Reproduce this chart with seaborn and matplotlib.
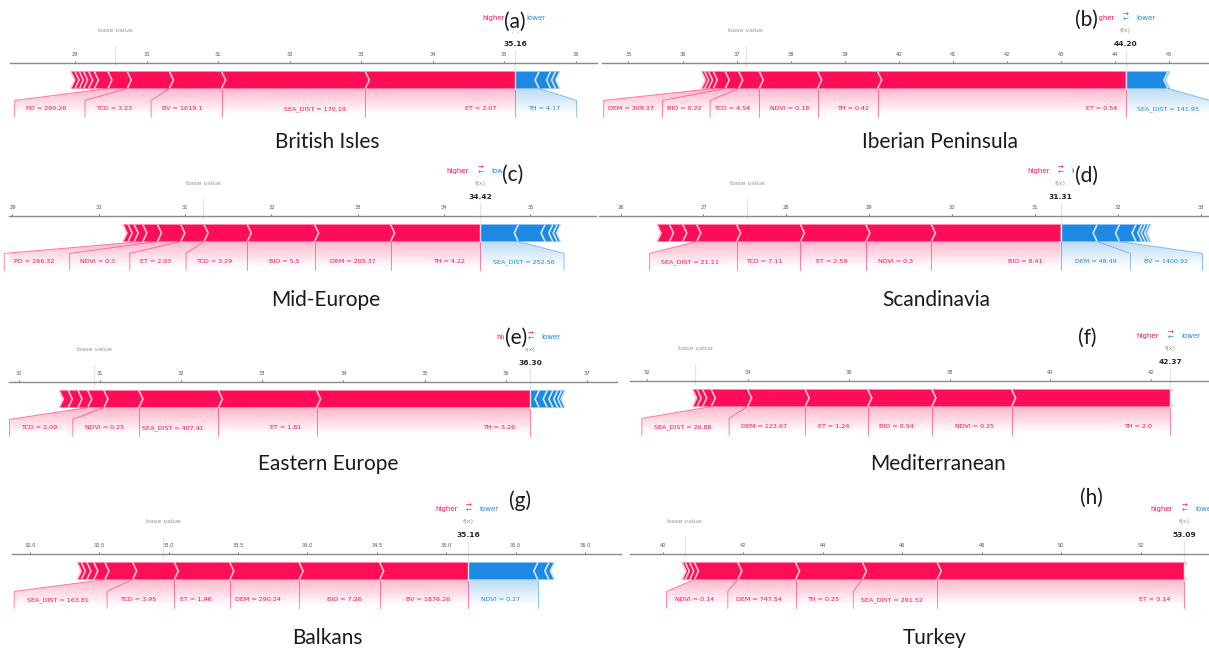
import numpy as np
import matplotlib
matplotlib.use("Agg")
import matplotlib.pyplot as plt
import seaborn as sns
from matplotlib.patches import Polygon, PathPatch
from matplotlib.path import Path
from matplotlib.lines import Line2D
from matplotlib.colors import LinearSegmentedColormap
from matplotlib.ticker import MultipleLocator

# ---------------------------------------------------------------- data
REGIONS = ["British Isles", "Iberian Peninsula", "Mid-Europe", "Scandinavia",
           "Eastern Europe", "Mediterranean", "Balkans", "Turkey"]
LETTERS = ["(a)", "(b)", "(c)", "(d)", "(e)", "(f)", "(g)", "(h)"]
FX = [35.16, 44.20, 34.42, 31.31, 36.30, 42.37, 35.16, 53.09]

# SHAP contributions pushing the prediction higher (largest first) and lower
A_RED = [2.10, 2.01, 0.73, 0.59, 0.27, 0.19, 0.08, 0.07, 0.06, 0.06, 0.06]
A_RED_LABELS = ["ET = 2.07", "SEA_DIST = 170.19", "BV = 1619.1", "TCD = 3.23", "PD = 290.26"]
A_BLUE = [0.33, 0.16, 0.07, 0.06]
A_BLUE_LABELS = ["TH = 4.17"]

B_RED = [4.59, 1.11, 1.08, 0.38, 0.25, 0.22, 0.09, 0.07, 0.06]
B_RED_LABELS = ["ET = 0.54", "TH = 0.42", "NDVI = 0.18", "TCD = 4.54", "BIO = 0.22", "DEM = 309.37"]
B_BLUE = [0.78, 0.04]
B_BLUE_LABELS = ["SEA_DIST = 141.95"]

C_RED = [1.04, 0.88, 0.78, 0.50, 0.27, 0.27, 0.17, 0.10, 0.07, 0.06]
C_RED_LABELS = ["TH = 4.22", "DEM = 205.37", "BIO = 5.5", "TCD = 3.29", "ET = 2.03",
                "NDVI = 0.3", "PD = 266.32"]
C_BLUE = [0.44, 0.31, 0.09, 0.05, 0.04]
C_BLUE_LABELS = ["SEA_DIST = 252.56"]

D_RED = [1.56, 0.79, 0.79, 0.77, 0.48, 0.17, 0.16, 0.15]
D_RED_LABELS = ["BIO = 8.41", "NDVI = 0.3", "ET = 2.59", "TCD = 7.11", "SEA_DIST = 21.11"]
D_BLUE = [0.44, 0.27, 0.20, 0.07, 0.04, 0.04, 0.03]
D_BLUE_LABELS = ["DEM = 48.49", "BV = 1400.92"]

E_RED = [2.63, 1.21, 0.98, 0.43, 0.20, 0.12, 0.12, 0.11]
E_RED_LABELS = ["TH = 3.26", "ET = 1.81", "SEA_DIST = 407.41", "NDVI = 0.25", "TCD = 2.09"]
E_BLUE = [0.11, 0.10, 0.07, 0.06, 0.05, 0.04]
E_BLUE_LABELS = []

F_RED = [3.14, 1.58, 1.27, 1.24, 1.14, 0.72, 0.17, 0.11, 0.09]
F_RED_LABELS = ["TH = 2.0", "NDVI = 0.25", "BIO = 0.54", "ET = 1.24", "DEM = 123.67",
                "SEA_DIST = 20.88"]
F_BLUE = [0.05]
F_BLUE_LABELS = []

G_RED = [0.64, 0.58, 0.50, 0.40, 0.30, 0.20, 0.08, 0.05, 0.04, 0.03]
G_RED_LABELS = ["BV = 1876.26", "BIO = 7.26", "DEM = 290.24", "ET = 1.96", "TCD = 3.95",
                "SEA_DIST = 163.81"]
G_BLUE = [0.50, 0.08, 0.04]
G_BLUE_LABELS = ["NDVI = 0.27"]

H_RED = [6.21, 1.88, 1.68, 1.45, 1.09, 0.12, 0.11, 0.08]
H_RED_LABELS = ["ET = 0.14", "SEA_DIST = 291.52", "TH = 0.25", "DEM = 747.54", "NDVI = 0.14"]
H_BLUE = [0.06]
H_BLUE_LABELS = []

RED_EFFECTS = [A_RED, B_RED, C_RED, D_RED, E_RED, F_RED, G_RED, H_RED]
RED_LABELS = [A_RED_LABELS, B_RED_LABELS, C_RED_LABELS, D_RED_LABELS,
              E_RED_LABELS, F_RED_LABELS, G_RED_LABELS, H_RED_LABELS]
BLUE_EFFECTS = [A_BLUE, B_BLUE, C_BLUE, D_BLUE, E_BLUE, F_BLUE, G_BLUE, H_BLUE]
BLUE_LABELS = [A_BLUE_LABELS, B_BLUE_LABELS, C_BLUE_LABELS, D_BLUE_LABELS,
               E_BLUE_LABELS, F_BLUE_LABELS, G_BLUE_LABELS, H_BLUE_LABELS]

# axis ranges and tick spacing of each panel
XLIMS = [(28.09, 36.30), (34.51, 45.74), (28.96, 35.76), (25.74, 33.10),
         (29.88, 37.37), (31.67, 43.14), (31.87, 36.26), (39.16, 53.71)]
TICK_STEPS = [1, 1, 1, 1, 1, 2, 0.5, 2]

# ---------------------------------------------------------------- layout
W, H = 1209, 654
AXIS_SPAN = [(10, 597), (602, 1209), (9, 596), (599, 1209),
             (9, 617), (630, 1209), (12, 621), (630, 1209)]
AXIS_Y = [63, 63, 216, 216, 382, 381, 554, 554]
TITLE_POS = [(327, 142), (940, 142), (326, 300), (936, 300),
             (328, 464), (938, 464), (327, 638), (935, 638)]
LETTER_POS = [(515, 22), (1086, 20), (513, 175), (1086, 176),
              (516, 338), (1087, 338), (520, 501), (1091, 498)]

# label spacing in pixels: (gap next to previous label, gap before own link line)
RED_GAPS = [(19, 11), (9, 4), (15, 10), (18, 11), (15, 12), (18, 12), (18, 13), (14, 8)]
BLUE_GAPS = [(13, 16), (11, 11), (13, 9), (14, 14), (13, 12), (13, 12), (13, 12), (13, 12)]

RED, RED_LIGHT = "#FF0D57", "#FFC3D5"
BLUE, BLUE_LIGHT = "#1E88E5", "#D1E6FA"

BAR_W = 0.1
YLIM = (-0.2, 0.15)
PX_PER_Y = 170.0
LABEL_Y = -0.127
LINK_BOTTOM = -0.17

LABEL_FS = 4.6
TICK_FS = 3.7
VALUE_FS = 5.4
NAME_FS = 4.6
HL_FS = 5.0
LINK_LW = 0.7
SEP_LW = 1.2

sns.set_theme(style="white")
plt.rcParams["font.family"] = ["DejaVu Sans"]

fig = plt.figure(figsize=(W / 100, H / 100), dpi=100)
renderer = fig.canvas.get_renderer()


def make_axes(span, axis_y):
    h = (YLIM[1] - YLIM[0]) * PX_PER_Y
    left, right = span
    return fig.add_axes([left / W, 1 - (axis_y + h) / H, (right - left) / W, h / H])


def draw_bars(ax, out_value, effects, kind, indent):
    color, light = (RED, RED_LIGHT) if kind == "pos" else (BLUE, BLUE_LIGHT)
    pre = out_value
    rects, seps = [], []
    for i, eff in enumerate(effects):
        if kind == "pos":
            left, right = pre - eff, pre
            pre = left
            ind = abs(indent)
            sep = left
        else:
            left, right = pre, pre + eff
            pre = right
            ind = -abs(indent)
            sep = right
        if i == 0:
            if kind == "pos":
                pts = [[left, 0], [right, 0], [right, BAR_W], [left, BAR_W],
                       [left + ind, BAR_W / 2]]
            else:
                pts = [[right, 0], [left, 0], [left, BAR_W], [right, BAR_W],
                       [right + ind, BAR_W / 2]]
        else:
            pts = [[left, 0], [right, 0], [right + ind * 0.9, BAR_W / 2],
                   [right, BAR_W], [left, BAR_W], [left + ind * 0.9, BAR_W / 2]]
        rects.append(Polygon(pts, closed=True, fill=True, facecolor=color, linewidth=0))
        seps.append(Polygon([[sep, 0], [sep + ind, BAR_W / 2], [sep, BAR_W]],
                            closed=False, fill=False, edgecolor=light, lw=SEP_LW))
    for p in rects:
        ax.add_patch(p)
    for p in seps:
        ax.add_patch(p)


def draw_labels(ax, out_value, effects, texts, kind, ppu, gaps):
    pos = kind == "pos"
    sign = 1 if pos else -1
    color = RED if pos else BLUE
    near = gaps[0] / ppu
    far = gaps[1] / ppu
    start = out_value
    pre = out_value
    box_end = out_value
    if pos:
        ax.add_line(Line2D([out_value, out_value], [0, LINK_BOTTOM], lw=LINK_LW,
                           alpha=0.5, color=color, clip_on=False))
    cum = out_value
    inv = ax.transData.inverted()
    for eff, text in zip(effects, texts):
        val = cum - sign * eff
        cum = val
        t = ax.text(start - sign * near, LABEL_Y, text, fontsize=LABEL_FS, color=color,
                    ha="right" if pos else "left", va="baseline", clip_on=False)
        bb = t.get_window_extent(renderer)
        (x0, _), (x1, _) = inv.transform([[bb.x0, bb.y0], [bb.x1, bb.y1]])
        edge = x0 if pos else x1
        if sign * edge > sign * val:
            ax.add_line(Line2D([val, val], [0, LINK_BOTTOM], lw=LINK_LW, alpha=0.5,
                               color=color, clip_on=False))
            start = val
            box_end = val
        else:
            box_end = edge - sign * far
            ax.add_line(Line2D([val, box_end, box_end], [0, -0.07, LINK_BOTTOM],
                               lw=LINK_LW, alpha=0.5, color=color, clip_on=False))
            start = box_end
        pre = val

    # soft gradient under the labelled part of the bar
    path = Path([[out_value, 0], [pre, 0], [box_end, -0.07], [box_end, -0.2],
                 [out_value, -0.2], [out_value, 0]])
    patch = PathPatch(path, facecolor="none", edgecolor="none")
    ax.add_patch(patch)
    rgb = np.array([(255, 13, 87), (255, 255, 255)]) / 255. if pos else \
        np.array([(30, 136, 229), (255, 255, 255)]) / 255.
    cm = LinearSegmentedColormap.from_list("shade", rgb)
    _, z = np.meshgrid(np.linspace(0, 10), np.linspace(-10, 10))
    if abs(box_end - out_value) > 1e-9:
        im = ax.imshow(z, interpolation="quadric", cmap=cm, vmax=0.01, alpha=0.3,
                       origin="lower", extent=[out_value, box_end, 0, -0.31],
                       aspect="auto")
        im.set_clip_path(patch)


for i in range(8):
    ax = make_axes(AXIS_SPAN[i], AXIS_Y[i])
    ax.set_xlim(*XLIMS[i])
    ax.set_ylim(*YLIM)
    ax.patch.set_facecolor("none")
    sns.despine(ax=ax, top=False, left=True, bottom=True, right=True)
    ax.spines["top"].set_color("#8a8a8a")
    ax.spines["top"].set_linewidth(1.0)
    ax.xaxis.set_major_locator(MultipleLocator(TICK_STEPS[i]))
    ax.tick_params(axis="x", top=True, bottom=False, labeltop=True, labelbottom=False,
                   labelsize=TICK_FS, length=1.5, width=0.6, pad=2.5, colors="#555555",
                   direction="out")
    ax.tick_params(axis="y", left=False, labelleft=False)
    ax.grid(False)

    span_px = AXIS_SPAN[i][1] - AXIS_SPAN[i][0]
    ppu = span_px / (XLIMS[i][1] - XLIMS[i][0])

    out_value = FX[i]
    red = RED_EFFECTS[i]
    blue = BLUE_EFFECTS[i]
    base_value = out_value - sum(red) + sum(blue)
    indent = 4.0 / ppu

    draw_bars(ax, out_value, blue, "neg", indent)
    draw_bars(ax, out_value, red, "pos", indent)

    draw_labels(ax, out_value, blue, BLUE_LABELS[i], "neg", ppu, BLUE_GAPS[i])
    draw_labels(ax, out_value, red, RED_LABELS[i], "pos", ppu, RED_GAPS[i])

    # higher / lower legend
    hl_off = 11 / ppu
    ax.text(out_value - hl_off, 0.405, "higher", fontsize=HL_FS, color=RED, ha="right",
            clip_on=False)
    ax.text(out_value + hl_off, 0.405, "lower", fontsize=HL_FS, color=BLUE, ha="left",
            clip_on=False)
    ax.text(out_value, 0.4, r"$\leftarrow$", fontsize=HL_FS, color=BLUE, ha="center",
            clip_on=False)
    ax.text(out_value, 0.425, r"$\rightarrow$", fontsize=HL_FS, color=RED, ha="center",
            clip_on=False)

    # base value marker
    ax.add_line(Line2D([base_value, base_value], [0.13, 0.25], lw=1.0, color="#E6E6E6",
                       clip_on=False))
    ax.text(base_value, 0.33, "base value", fontsize=NAME_FS, alpha=0.5, ha="center",
            clip_on=False, bbox=dict(facecolor="white", edgecolor="white", pad=1.2))

    # model output marker
    ax.add_line(Line2D([out_value, out_value], [0, 0.24], lw=1.0, color="#E6E6E6",
                       clip_on=False))
    ax.text(out_value, 0.25, "{0:.2f}".format(out_value), fontsize=VALUE_FS,
            fontweight="bold", ha="center", clip_on=False,
            bbox=dict(facecolor="white", edgecolor="white", pad=1.2))
    ax.text(out_value, 0.33, "f(x)", fontsize=NAME_FS, alpha=0.5, ha="center",
            clip_on=False, bbox=dict(facecolor="white", edgecolor="white", pad=1.2))

    ax.set_xlim(*XLIMS[i])
    ax.set_ylim(*YLIM)

    tx, ty = TITLE_POS[i]
    fig.text(tx / W, 1 - ty / H, REGIONS[i], ha="center", va="center", fontsize=15,
             family=["Lato", "DejaVu Sans"], color="#1a1a1a")
    lx, ly = LETTER_POS[i]
    fig.text(lx / W, 1 - ly / H, LETTERS[i], ha="center", va="center", fontsize=15,
             family=["Lato", "DejaVu Sans"], color="#1a1a1a",
             bbox=dict(facecolor="white", edgecolor="none", pad=0.3))

fig.savefig("out.png", dpi=100, facecolor="white")
